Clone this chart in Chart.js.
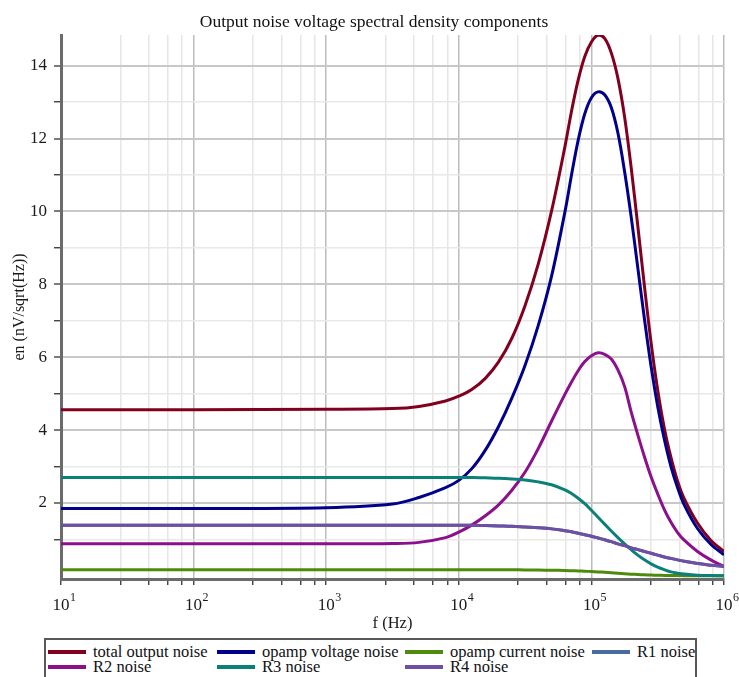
<!DOCTYPE html>
<html>
<head>
<meta charset="utf-8">
<script src="https://cdn.jsdelivr.net/npm/chart.js@4.4.0/dist/chart.umd.min.js"></script>
<style>
  html, body { margin: 0; padding: 0; background: #fff; overflow: hidden; }
  #wrap { position: relative; width: 739px; height: 677px; }
  #chart { position: absolute; left: 0; top: 0; }
  #legend {
    position: absolute; left: 44px; top: 638px; width: 647px; height: 44px;
    border: 2px solid #585858; padding: 4px 0 0 2px;
    display: grid; grid-template-columns: 169px 188px 187px auto; grid-auto-rows: 15px;
    font-family: "Liberation Serif", "Times New Roman", serif; font-size: 16.5px; color: #111;
  }
  #legend .item { display: flex; align-items: center; white-space: nowrap; }
  #legend .swatch { display: inline-block; width: 38px; height: 4px; margin-right: 7px; }
</style>
</head>
<body>
<div id="wrap">
  <canvas id="chart" width="739" height="638"></canvas>
  <div id="legend"></div>
</div>
<script>
// frequency points (Hz), log-spaced, denser around the peak
const freqs = [10, 100, 1000, 3162, 5012, 7943, 10000, 12589, 15849, 19953, 25119, 31623, 39811, 50119, 63096, 70795, 79433, 89125, 100000, 112202, 125893, 141254, 158489, 177828, 199526, 223872, 251189, 281838, 316228, 354813, 398107, 446684, 501187, 630957, 794328, 1000000];

// nV/sqrt(Hz)
const totalNoise = [4.56, 4.56, 4.57, 4.59, 4.65, 4.80, 4.93, 5.12, 5.42, 5.87, 6.52, 7.42, 8.57, 10.02, 11.77, 12.75, 13.6, 14.25, 14.65, 14.84, 14.75, 14.35, 13.65, 12.6, 11.2, 9.6, 7.95, 6.4, 5.1, 4.05, 3.25, 2.6, 2.12, 1.45, 0.98, 0.67];
const opampVoltage = [1.85, 1.85, 1.87, 1.97, 2.15, 2.42, 2.62, 2.95, 3.45, 4.1, 4.88, 5.78, 6.88, 8.23, 9.98, 11.0, 11.95, 12.68, 13.12, 13.28, 13.2, 12.85, 12.15, 11.1, 9.85, 8.45, 7.05, 5.75, 4.65, 3.75, 3.0, 2.42, 1.95, 1.3, 0.87, 0.58];
const opampCurrent = [0.17, 0.17, 0.17, 0.17, 0.17, 0.17, 0.17, 0.17, 0.17, 0.17, 0.168, 0.165, 0.16, 0.155, 0.148, 0.142, 0.135, 0.128, 0.12, 0.11, 0.1, 0.087, 0.073, 0.06, 0.048, 0.038, 0.03, 0.023, 0.018, 0.014, 0.011, 0.009, 0.007, 0.004, 0.003, 0.002];
const r1Noise = [1.39, 1.39, 1.39, 1.39, 1.39, 1.39, 1.39, 1.39, 1.38, 1.37, 1.36, 1.34, 1.32, 1.29, 1.24, 1.21, 1.17, 1.13, 1.09, 1.04, 0.99, 0.94, 0.88, 0.83, 0.77, 0.72, 0.67, 0.62, 0.57, 0.52, 0.48, 0.44, 0.40, 0.34, 0.29, 0.26];
const r2Noise = [0.88, 0.88, 0.88, 0.89, 0.92, 1.05, 1.2, 1.4, 1.65, 1.95, 2.35, 2.85, 3.5, 4.25, 4.98, 5.32, 5.63, 5.88, 6.04, 6.12, 6.08, 5.95, 5.65, 5.2, 4.5, 3.87, 3.27, 2.72, 2.25, 1.82, 1.47, 1.19, 0.98, 0.67, 0.44, 0.26];
const r3Noise = [2.70, 2.70, 2.70, 2.70, 2.70, 2.70, 2.70, 2.70, 2.69, 2.68, 2.66, 2.63, 2.58, 2.5, 2.36, 2.26, 2.13, 1.98, 1.8, 1.61, 1.42, 1.23, 1.05, 0.88, 0.72, 0.57, 0.44, 0.33, 0.24, 0.17, 0.11, 0.075, 0.05, 0.02, 0.01, 0.005];
const r4Noise = [1.39, 1.39, 1.39, 1.39, 1.39, 1.39, 1.39, 1.39, 1.38, 1.37, 1.36, 1.34, 1.32, 1.29, 1.24, 1.21, 1.17, 1.13, 1.09, 1.04, 0.99, 0.94, 0.88, 0.83, 0.77, 0.72, 0.67, 0.62, 0.57, 0.52, 0.48, 0.44, 0.40, 0.34, 0.29, 0.26];

const seriesNames = ['total output noise', 'opamp voltage noise', 'opamp current noise', 'R1 noise', 'R2 noise', 'R3 noise', 'R4 noise'];
const seriesValues = [totalNoise, opampVoltage, opampCurrent, r1Noise, r2Noise, r3Noise, r4Noise];
const seriesColors = ['#82001f', '#00008b', '#4e8b0c', '#4a6b9c', '#8c0f8c', '#0a8078', '#6e4fa3'];

const decades = [10, 100, 1000, 10000, 100000, 1000000];
const minorSteps = [2.8, 4.6, 6.4, 8.2];
const yTickValues = [1, 2, 3, 4, 5, 6, 7, 8, 9, 10, 11, 12, 13, 14];

const serif = '"Liberation Serif", "Times New Roman", serif';

// x tick labels as 10 with a raised exponent
const decadeLabels = {
  id: 'decadeLabels',
  afterDraw(chart) {
    const scale = chart.scales.x;
    const ctx = chart.ctx;
    ctx.save();
    ctx.fillStyle = '#1a1a1a';
    ctx.textBaseline = 'middle';
    scale.ticks.filter(t => t.major).forEach(t => {
      const px = scale.getPixelForValue(t.value);
      ctx.font = '17px ' + serif;
      ctx.textAlign = 'center';
      ctx.fillText('10', px, scale.top + 27);
      const w = ctx.measureText('10').width;
      ctx.font = '12px ' + serif;
      ctx.textAlign = 'left';
      ctx.fillText(String(Math.round(Math.log10(t.value))), px + w / 2 + 0.5, scale.top + 19);
    });
    ctx.restore();
  }
};

const datasets = seriesNames.map((name, i) => ({
  label: name,
  data: seriesValues[i].map((v, j) => ({ x: freqs[j], y: v })),
  borderColor: seriesColors[i],
  backgroundColor: seriesColors[i],
  borderWidth: 3,
  pointRadius: 0,
  fill: false,
  tension: 0.35,
  order: 10 - i
}));

const chart = new Chart(document.querySelector('#chart'), {
  type: 'line',
  data: { datasets: datasets },
  options: {
    responsive: false,
    animation: false,
    devicePixelRatio: 1,
    layout: { padding: { left: 24, right: 15, top: 0, bottom: 0 } },
    scales: {
      x: {
        type: 'logarithmic',
        min: 10,
        max: 1000000,
        afterBuildTicks: scale => {
          const ticks = [];
          decades.forEach((d, i) => {
            ticks.push({ value: d, major: true });
            if (i < decades.length - 1) minorSteps.forEach(m => ticks.push({ value: d * m, major: false }));
          });
          scale.ticks = ticks;
        },
        afterFit: scale => { scale.height = 59; },
        ticks: { display: false, autoSkip: false, maxRotation: 0 },
        grid: {
          color: ctx => ctx.tick && ctx.tick.major ? '#bcbcbc' : '#e6e6e6',
          lineWidth: 1.5,
          tickColor: '#333',
          tickLength: 6,
          tickWidth: 1.3
        },
        border: { color: '#6b6b6b', width: 3 },
        title: {
          display: true,
          text: 'f (Hz)',
          color: '#1a1a1a',
          font: { family: serif, size: 16.5 },
          padding: { top: 0, bottom: 4 }
        }
      },
      y: {
        min: -0.085,
        max: 14.84,
        afterBuildTicks: scale => {
          scale.ticks = yTickValues.map(v => ({ value: v, major: v % 2 === 0 }));
        },
        afterFit: scale => { scale.width = 37; },
        ticks: {
          autoSkip: false,
          padding: 7,
          color: '#1a1a1a',
          font: { family: serif, size: 17 },
          callback: v => v % 2 === 0 ? String(v) : ''
        },
        grid: {
          color: ctx => ctx.tick && ctx.tick.major ? '#c8c8c8' : '#e8e8e8',
          lineWidth: ctx => ctx.tick && ctx.tick.major ? 2 : 1.5,
          tickColor: '#333',
          tickLength: 7,
          tickWidth: 1.3
        },
        border: { color: '#6b6b6b', width: 3 },
        title: {
          display: true,
          text: 'en (nV/sqrt(Hz))',
          color: '#1a1a1a',
          font: { family: serif, size: 16 },
          padding: { top: -13.6, bottom: 0 }
        }
      }
    },
    plugins: {
      legend: { display: false },
      tooltip: { enabled: false },
      title: {
        display: true,
        text: 'Output noise voltage spectral density components',
        color: '#111',
        font: { family: serif, size: 17.5, weight: 'normal' },
        padding: { top: 12, bottom: 2 }
      }
    }
  },
  plugins: [decadeLabels]
});

// legend in a fixed 4-column grid like the original
const legend = document.querySelector('#legend');
chart.data.datasets.forEach(ds => {
  const item = document.createElement('div');
  item.classList.add('item');
  const swatch = document.createElement('span');
  swatch.classList.add('swatch');
  swatch.style.background = ds.borderColor;
  const text = document.createElement('span');
  text.textContent = ds.label;
  item.appendChild(swatch);
  item.appendChild(text);
  legend.appendChild(item);
});
</script>
</body>
</html>
